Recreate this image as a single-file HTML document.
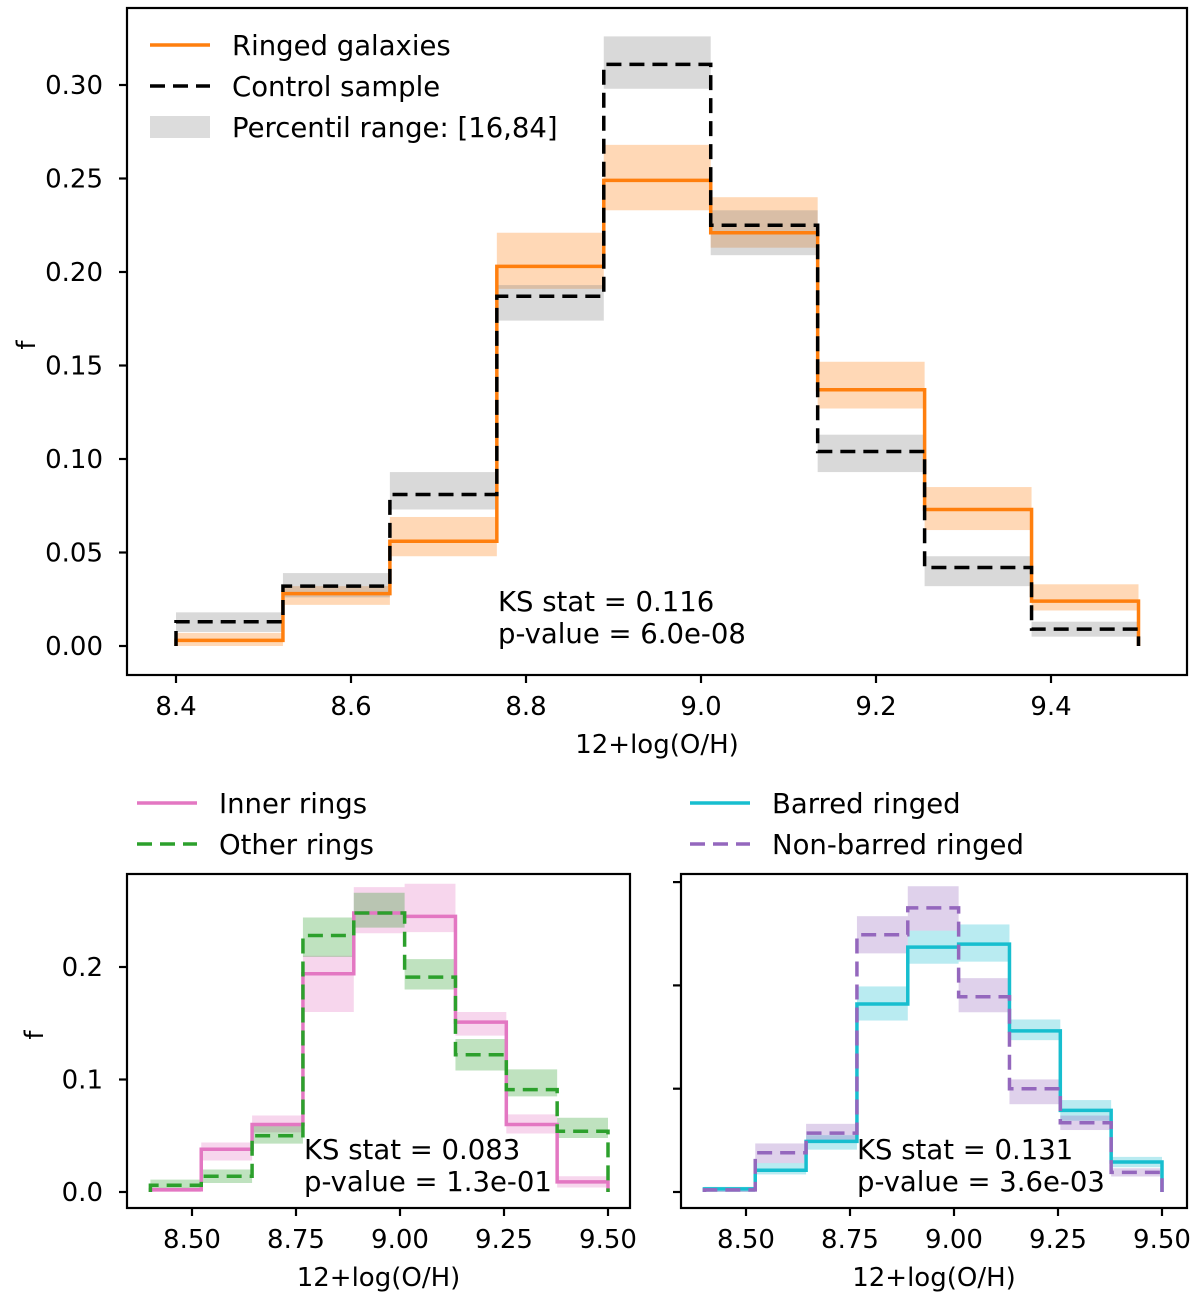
<!DOCTYPE html>
<html><head><meta charset="utf-8"><style>
html,body{margin:0;padding:0;background:#fff;}
svg{display:block;font-family:"DejaVu Sans","Liberation Sans",sans-serif;}
</style></head><body>
<svg id="fig" width="1200" height="1300" viewBox="0 0 1200 1300" xmlns="http://www.w3.org/2000/svg"></svg>
<script>
// ---------- DATA ----------
const binEdgesStart = 8.4;
const binEdgesEnd = 9.5;
const nBins = 9;
// Top panel
const ringedValues = [0.003, 0.028, 0.056, 0.203, 0.249, 0.221, 0.137, 0.073, 0.024];
const ringedLow    = [0.000, 0.022, 0.048, 0.191, 0.233, 0.213, 0.127, 0.062, 0.019];
const ringedHigh   = [0.007, 0.032, 0.069, 0.221, 0.268, 0.240, 0.152, 0.085, 0.033];
const controlValues = [0.013, 0.032, 0.081, 0.187, 0.311, 0.225, 0.104, 0.042, 0.009];
const controlLow    = [0.0075, 0.026, 0.073, 0.174, 0.298, 0.209, 0.093, 0.032, 0.005];
const controlHigh   = [0.018, 0.039, 0.093, 0.193, 0.326, 0.233, 0.113, 0.048, 0.013];
const topXTicks = [8.4, 8.6, 8.8, 9.0, 9.2, 9.4];
const topXTickLabels = ["8.4", "8.6", "8.8", "9.0", "9.2", "9.4"];
const topYTicks = [0, 0.05, 0.10, 0.15, 0.20, 0.25, 0.30];
const topYTickLabels = ["0.00", "0.05", "0.10", "0.15", "0.20", "0.25", "0.30"];
// Bottom left
const innerValues = [0.002, 0.038, 0.060, 0.194, 0.248, 0.245, 0.151, 0.060, 0.009];
const innerLow    = [0.000, 0.028, 0.053, 0.160, 0.230, 0.231, 0.139, 0.052, 0.004];
const innerHigh   = [0.004, 0.044, 0.068, 0.210, 0.271, 0.274, 0.160, 0.069, 0.014];
const otherValues = [0.006, 0.014, 0.050, 0.228, 0.248, 0.191, 0.122, 0.091, 0.054];
const otherLow    = [0.002, 0.008, 0.043, 0.209, 0.235, 0.180, 0.108, 0.085, 0.048];
const otherHigh   = [0.011, 0.020, 0.060, 0.244, 0.266, 0.207, 0.136, 0.109, 0.066];
// Bottom right
const barredValues = [0.003, 0.021, 0.049, 0.182, 0.237, 0.240, 0.156, 0.079, 0.029];
const barredLow    = [0.000, 0.017, 0.041, 0.166, 0.221, 0.223, 0.147, 0.069, 0.024];
const barredHigh   = [0.005, 0.028, 0.055, 0.199, 0.253, 0.259, 0.167, 0.089, 0.034];
const nonbarValues = [0.002, 0.038, 0.057, 0.249, 0.275, 0.189, 0.100, 0.067, 0.019];
const nonbarLow    = [0.000, 0.028, 0.050, 0.231, 0.253, 0.174, 0.085, 0.060, 0.015];
const nonbarHigh   = [0.004, 0.047, 0.066, 0.267, 0.296, 0.207, 0.109, 0.074, 0.023];
const botXTicks = [8.5, 8.75, 9.0, 9.25, 9.5];
const botXTickLabels = ["8.50", "8.75", "9.00", "9.25", "9.50"];
const leftYTicks = [0, 0.1, 0.2];
const leftYTickLabels = ["0.0", "0.1", "0.2"];
const rightYTicks = [0, 0.1, 0.2, 0.3];

// ---------- HELPERS ----------
const NS = "http://www.w3.org/2000/svg";
const svg = document.getElementById('fig');
const DASH = '15,8';
function mk(tag, attrs, parent, text){
  const e = document.createElementNS(NS, tag);
  for (const k in attrs) e.setAttribute(k, attrs[k]);
  if (text !== undefined) e.textContent = text;
  (parent || svg).appendChild(e);
  return e;
}
function binEdges(){
  const w = (binEdgesEnd - binEdgesStart) / nBins;
  const r = [];
  for (let i = 0; i <= nBins; i++) r.push(binEdgesStart + i * w);
  return r;
}
const edges = binEdges();

function panel(cfg){
  const g = mk('g', {});
  
  
  const X = v => cfg.x0 + (v - cfg.xv0) * cfg.xs;
  const Y = v => cfg.y0 - v * cfg.ys;
  cfg.series.forEach(s => {
    const bg = mk('g', {}, g);
    
    
    for (let i = 0; i < nBins; i++) {
      const r = mk('rect', {x: X(edges[i]), y: Y(s.high[i]), width: X(edges[i+1]) - X(edges[i]), height: Y(s.low[i]) - Y(s.high[i]), fill: s.band, 'fill-opacity': 0.3}, bg);
      
      
    }
  });
  cfg.series.forEach(s => {
    let d = 'M' + X(edges[0]) + ',' + Y(0);
    for (let i = 0; i < nBins; i++) {
      d += ' L' + X(edges[i]) + ',' + Y(s.vals[i]) + ' L' + X(edges[i+1]) + ',' + Y(s.vals[i]);
    }
    d += ' L' + X(edges[nBins]) + ',' + Y(0);
    const p = mk('path', {d: d, fill: 'none', stroke: s.color, 'stroke-width': 3.5, 'stroke-dasharray': s.dash || 'none'}, g);
    
    
  });
  const fr = mk('rect', {x: cfg.bx, y: cfg.by, width: cfg.bw, height: cfg.bh, fill: 'none', stroke: '#000', 'stroke-width': 2.2}, g);
  
  
  const xa = mk('g', {}, g);
  
  
  cfg.xticks.forEach((t, i) => {
    const x = X(t), yb = cfg.by + cfg.bh;
    mk('line', {x1: x, x2: x, y1: yb, y2: yb + 8, stroke: '#000', 'stroke-width': 2.2}, xa);
    const tl = mk('text', {x: x, y: yb + 40, 'text-anchor': 'middle', 'font-size': 26}, xa, cfg.xlabels[i]);
    
    
  });
  const xt = mk('text', {x: cfg.bx + cfg.bw / 2, y: cfg.by + cfg.bh + 78, 'text-anchor': 'middle', 'font-size': 26}, g, '12+log(O/H)');
  
  
  const ya = mk('g', {}, g);
  
  
  cfg.yticks.forEach((t, i) => {
    const y = Y(t);
    mk('line', {x1: cfg.bx - 8, x2: cfg.bx, y1: y, y2: y, stroke: '#000', 'stroke-width': 2.2}, ya);
    if (cfg.ylabels) {
      const tl = mk('text', {x: cfg.bx - 24, y: y + 9, 'text-anchor': 'end', 'font-size': 26}, ya, cfg.ylabels[i]);
      
      
    }
  });
  if (cfg.ytitle) {
    const yt = mk('text', {x: cfg.ytx, y: cfg.yty, 'text-anchor': 'middle', 'font-size': 26, transform: 'rotate(-90 ' + cfg.ytx + ' ' + cfg.yty + ')'}, g, 'f');
    
    
  }
  const ks = mk('text', {x: cfg.ksx, y: cfg.ksy, 'font-size': 27.5}, g);
  
  
  mk('tspan', {x: cfg.ksx, dy: 0}, ks, cfg.ks[0]);
  mk('tspan', {x: cfg.ksx, dy: 32}, ks, cfg.ks[1]);
}

function legendEntry(x, y, label, kind, color, dash, name){
  const g = mk('g', {});
  
  
  if (kind === 'line') mk('line', {x1: x, x2: x + 60, y1: y, y2: y, stroke: color, 'stroke-width': 3.5, 'stroke-dasharray': dash || 'none'}, g);
  else mk('rect', {x: x, y: y - 11, width: 60, height: 22, fill: color}, g);
  mk('text', {x: x + 82, y: y + 10, 'font-size': 27.5}, g, label);
}

// ---------- TOP PANEL ----------
panel({name: 'top-chart', x0: 176, xv0: 8.4, xs: 875, y0: 646, ys: 1870,
  bx: 127, by: 8, bw: 1060, bh: 667,
  xticks: topXTicks, xlabels: topXTickLabels, yticks: topYTicks, ylabels: topYTickLabels,
  ytitle: true, ytx: 35, yty: 345, ksx: 498, ksy: 611, ks: ['KS stat = 0.116', 'p-value = 6.0e-08'],
  series: [
    {key: 'ringed', vals: ringedValues, low: ringedLow, high: ringedHigh, color: '#ff7f0e', band: '#ff7f0e'},
    {key: 'control', vals: controlValues, low: controlLow, high: controlHigh, color: '#000', band: '#808080', dash: DASH}
  ]
});
legendEntry(150, 45, 'Ringed galaxies', 'line', '#ff7f0e', null, 'legend-ringed');
legendEntry(150, 86, 'Control sample', 'line', '#000', DASH, 'legend-control');
legendEntry(150, 127, 'Percentil range: [16,84]', 'rect', '#dcdcdc', null, 'legend-percentile');

// ---------- BOTTOM LEFT ----------
panel({name: 'rings-type-chart', x0: 150.4, xv0: 8.4, xs: 416, y0: 1192, ys: 1125,
  bx: 127, by: 874, bw: 503, bh: 334,
  xticks: botXTicks, xlabels: botXTickLabels, yticks: leftYTicks, ylabels: leftYTickLabels,
  ytitle: true, ytx: 43, yty: 1035, ksx: 304, ksy: 1159, ks: ['KS stat = 0.083', 'p-value = 1.3e-01'],
  series: [
    {key: 'inner-rings', vals: innerValues, low: innerLow, high: innerHigh, color: '#e377c2', band: '#e377c2'},
    {key: 'other-rings', vals: otherValues, low: otherLow, high: otherHigh, color: '#2ca02c', band: '#2ca02c', dash: DASH}
  ]
});
legendEntry(137, 803, 'Inner rings', 'line', '#e377c2', null, 'legend-inner-rings');
legendEntry(137, 844, 'Other rings', 'line', '#2ca02c', DASH, 'legend-other-rings');

// ---------- BOTTOM RIGHT ----------
panel({name: 'bar-type-chart', x0: 704.4, xv0: 8.4, xs: 416, y0: 1192, ys: 1033,
  bx: 681, by: 874, bw: 506, bh: 334,
  xticks: botXTicks, xlabels: botXTickLabels, yticks: rightYTicks, ylabels: null,
  ytitle: false, ksx: 857, ksy: 1159, ks: ['KS stat = 0.131', 'p-value = 3.6e-03'],
  series: [
    {key: 'barred-ringed', vals: barredValues, low: barredLow, high: barredHigh, color: '#17becf', band: '#17becf'},
    {key: 'nonbarred-ringed', vals: nonbarValues, low: nonbarLow, high: nonbarHigh, color: '#9467bd', band: '#9467bd', dash: DASH}
  ]
});
legendEntry(690, 803, 'Barred ringed', 'line', '#17becf', null, 'legend-barred');
legendEntry(690, 844, 'Non-barred ringed', 'line', '#9467bd', DASH, 'legend-nonbarred');
</script>
</body></html>
